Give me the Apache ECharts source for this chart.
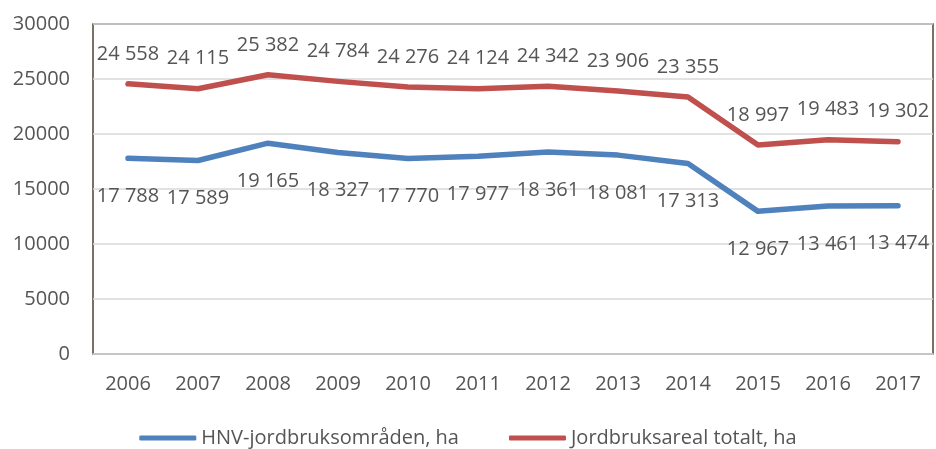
<!DOCTYPE html>
<html>
<head>
<meta charset="utf-8">
<script src="https://cdn.jsdelivr.net/npm/echarts@6/dist/echarts.min.js"></script>
<style>
  html, body { margin: 0; padding: 0; background: #fff; }
  #chart { width: 936px; height: 449px; }
</style>
</head>
<body>
<div id="chart"></div>
<script>
const years = ['2006', '2007', '2008', '2009', '2010', '2011', '2012', '2013', '2014', '2015', '2016', '2017']
const hnvValues = [17788, 17589, 19165, 18327, 17770, 17977, 18361, 18081, 17313, 12967, 13461, 13474]
const totalValues = [24558, 24115, 25382, 24784, 24276, 24124, 24342, 23906, 23355, 18997, 19483, 19302]
const seriesNames = ['HNV-jordbruksområden, ha', 'Jordbruksareal totalt, ha']

const font = '"Open Sans", sans-serif'
const textColor = '#555555'

// 24558 -> "24 558"
const fmt = v => String(v).replace(/\B(?=(\d{3})+(?!\d))/g, ' ')

const chart = echarts.init(document.getElementById('chart'))

const labelStyle = (position, distance) => ({
  show: true,
  position: position,
  distance: distance,
  formatter: p => fmt(p.value),
  fontFamily: font,
  fontSize: 20,
  color: textColor
})

chart.setOption({
  animation: false,
  grid: {
    left: 93,
    right: 3,
    top: 24,
    bottom: 95,
    show: true,
    borderColor: '#4a4535',
    borderWidth: 1.5
  },
  legend: {
    top: 423,
    left: 'center',
    itemWidth: 57,
    itemHeight: 5,
    itemGap: 50,
    icon: 'roundRect',
    textStyle: { fontFamily: font, fontSize: 20, color: textColor },
    data: seriesNames
  },
  xAxis: {
    type: 'category',
    data: years,
    boundaryGap: true,
    axisLine: { lineStyle: { color: '#c8c8c8', width: 1.5 } },
    axisTick: { show: false },
    axisLabel: { fontFamily: font, fontSize: 20, color: textColor, margin: 20 }
  },
  yAxis: {
    type: 'value',
    min: 0,
    max: 30000,
    interval: 5000,
    axisLine: { show: false },
    axisTick: { show: false },
    splitLine: { lineStyle: { color: '#d9d9d9', width: 1.5 } },
    axisLabel: { fontFamily: font, fontSize: 20, color: textColor, margin: 23, formatter: v => String(v) }
  },
  series: [
    {
      name: seriesNames[0],
      type: 'line',
      data: hnvValues,
      symbol: 'circle',
      symbolSize: 2,
      showSymbol: true,
      lineStyle: { color: '#4F81BD', width: 5.5, cap: 'round', join: 'round' },
      itemStyle: { color: '#4F81BD' },
      label: labelStyle('bottom', 27)
    },
    {
      name: seriesNames[1],
      type: 'line',
      data: totalValues,
      symbol: 'circle',
      symbolSize: 2,
      showSymbol: true,
      lineStyle: { color: '#C0504D', width: 5.5, cap: 'round', join: 'round' },
      itemStyle: { color: '#C0504D' },
      label: labelStyle('top', 19)
    }
  ]
})
</script>
</body>
</html>
